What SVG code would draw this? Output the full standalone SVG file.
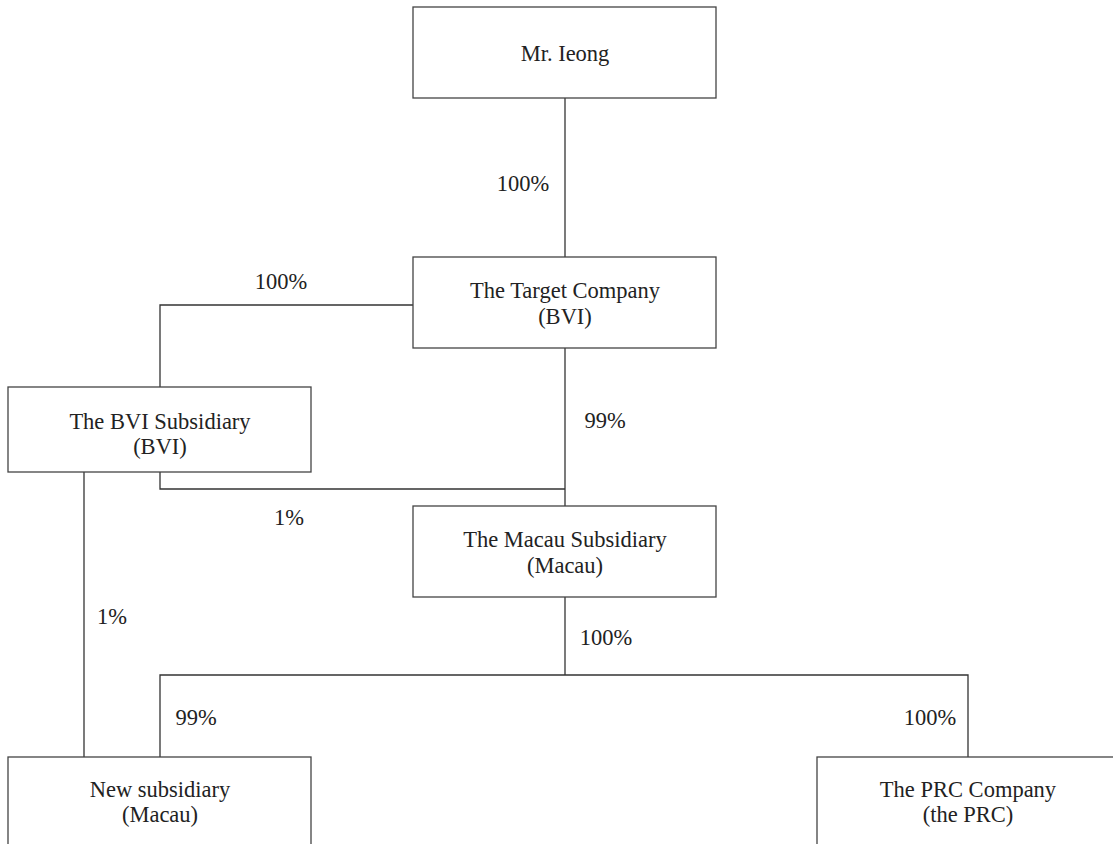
<svg xmlns="http://www.w3.org/2000/svg" width="1113" height="844" viewBox="0 0 1113 844">
<style>
.box{fill:#fff;stroke:#444;stroke-width:1.3}
.t{font-family:"Liberation Serif","Times New Roman",serif;font-size:22.5px;fill:#222;text-anchor:middle}
.ln{fill:none;stroke:#333;stroke-width:1.3}
</style>
<rect width="1113" height="844" fill="#fff"/>
<g id="connectors">
<path class="ln" d="M565,98 V257"/>
<path class="ln" d="M413,305 H160 V387"/>
<path class="ln" d="M565,348 V506"/>
<path class="ln" d="M160,472 V489 H565"/>
<path class="ln" d="M565,597 V675"/>
<path class="ln" d="M160,757 V675 H968 V757"/>
<path class="ln" d="M84,472 V757"/>
<text class="t" x="523" y="191">100%</text>
<text class="t" x="281" y="289">100%</text>
<text class="t" x="605" y="428">99%</text>
<text class="t" x="289" y="525">1%</text>
<text class="t" x="606" y="645">100%</text>
<text class="t" x="112" y="624">1%</text>
<text class="t" x="196" y="725">99%</text>
<text class="t" x="930" y="725">100%</text>
</g>
<g id="mr-ieong">
<rect class="box" x="413" y="7" width="303" height="91"/>
<text class="t" x="565" y="61">Mr. Ieong</text>
</g>
<g id="target-company">
<rect class="box" x="413" y="257" width="303" height="91"/>
<text class="t" x="565" y="298">The Target Company</text>
<text class="t" x="565" y="324">(BVI)</text>
</g>
<g id="bvi-subsidiary">
<rect class="box" x="8" y="387" width="303" height="85"/>
<text class="t" x="160" y="429">The BVI Subsidiary</text>
<text class="t" x="160" y="454">(BVI)</text>
</g>
<g id="macau-subsidiary">
<rect class="box" x="413" y="506" width="303" height="91"/>
<text class="t" x="565" y="547">The Macau Subsidiary</text>
<text class="t" x="565" y="573">(Macau)</text>
</g>
<g id="new-subsidiary">
<rect class="box" x="8" y="757" width="303" height="100"/>
<text class="t" x="160" y="797">New subsidiary</text>
<text class="t" x="160" y="822">(Macau)</text>
</g>
<g id="prc-company">
<rect class="box" x="817" y="757" width="310" height="100"/>
<text class="t" x="968" y="797">The PRC Company</text>
<text class="t" x="968" y="822">(the PRC)</text>
</g>
</svg>
